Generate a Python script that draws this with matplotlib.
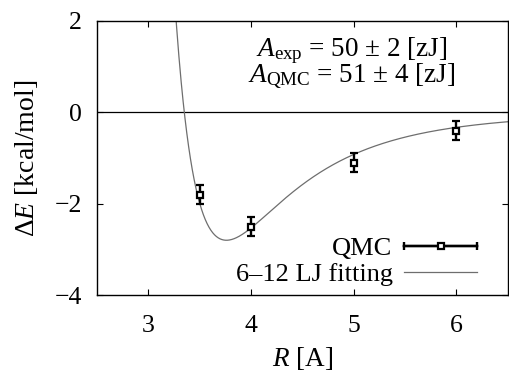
import numpy as np
import matplotlib
matplotlib.use('Agg')
import matplotlib.pyplot as plt
from matplotlib.lines import Line2D
from matplotlib.legend_handler import HandlerLine2D, HandlerTuple

plt.rcParams['font.family'] = ['Liberation Serif', 'DejaVu Serif']
plt.rcParams['mathtext.fontset'] = 'custom'
plt.rcParams['mathtext.rm'] = 'Liberation Serif'
plt.rcParams['mathtext.it'] = 'Liberation Serif:italic'
plt.rcParams['mathtext.bf'] = 'Liberation Serif:bold'

# QMC points
r_qmc = [3.5, 4.0, 5.0, 6.0]
e_qmc = [-1.8, -2.5, -1.1, -0.4]
e_err = [0.2, 0.2, 0.2, 0.2]

# 6-12 LJ fit parameters (well depth, zero crossing)
lj_eps = 2.8
lj_sigma = 3.35

x_ticks = [3, 4, 5, 6]
y_ticks = [-4, -2, 0, 2]


def lj(r):
    s6 = (lj_sigma / r) ** 6
    return 4 * lj_eps * (s6 * s6 - s6)


fig = plt.figure(figsize=(5.09, 3.74), dpi=100)
ax = fig.add_axes([0.1906, 0.211, 0.807, 0.733])

r = np.linspace(3.0, 6.6, 800)
ax.axhline(0, color='black', lw=0.9, zorder=1)
fit_line, = ax.plot(r, lj(r), color='#6e6e6e', lw=0.9, zorder=2)
ax.errorbar(r_qmc, e_qmc, yerr=e_err, fmt='s', color='black', mfc='white',
            mec='black', ms=4.5, mew=1.6, elinewidth=1.7, capsize=3,
            capthick=1.7, zorder=3)

ax.set_xlim(2.5, 6.5)
ax.set_ylim(-4, 2)
ax.set_xticks(x_ticks)
ax.set_yticks(y_ticks)
ax.set_yticklabels(['\u2212%d' % -v if v < 0 else '%d' % v for v in y_ticks])
ax.tick_params(direction='in', length=4.5, width=0.8, top=True, right=True,
               labelsize=18.5, colors='black')
ax.tick_params(axis='x', pad=14)
ax.tick_params(axis='y', pad=11)
for s in ax.spines.values():
    s.set_linewidth(1.0)

ax.set_xlabel(r'$R$ [A]', fontsize=19.5, labelpad=6)
ax.set_ylabel(r'$\mathit{\Delta E}$ [kcal/mol]', fontsize=20, labelpad=10)

# both Hamaker constants in one two-line label
ax.text(0.62, 0.772,
        r'$A_{\rm exp}$ = 50 $\pm$ 2 [zJ]' + '\n' + r'$A_{\rm QMC}$ = 51 $\pm$ 4 [zJ]',
        transform=ax.transAxes, ha='center', va='baseline',
        multialignment='center', linespacing=0.82, fontsize=19.5)

# gnuplot style legend entry for the error bars
caps = Line2D([], [], color='black', lw=1.7, marker='|', ms=6, mew=1.7)
sq = Line2D([], [], color='black', lw=1.7, marker='s', ms=4.5, mfc='white',
            mew=1.6)
leg = ax.legend([(caps, sq), fit_line], ['QMC', '6\u201312 LJ fitting'],
                handler_map={caps: HandlerLine2D(numpoints=2, marker_pad=0),
                             sq: HandlerLine2D(numpoints=1),
                             tuple: HandlerTuple(ndivide=1)},
                loc='lower right', bbox_to_anchor=(0.97, -0.035),
                markerfirst=False, frameon=False, fontsize=19,
                handlelength=2.75, handletextpad=0.45, labelspacing=0.1,
                borderpad=0.2)

fig.savefig('out.png', dpi=100)
